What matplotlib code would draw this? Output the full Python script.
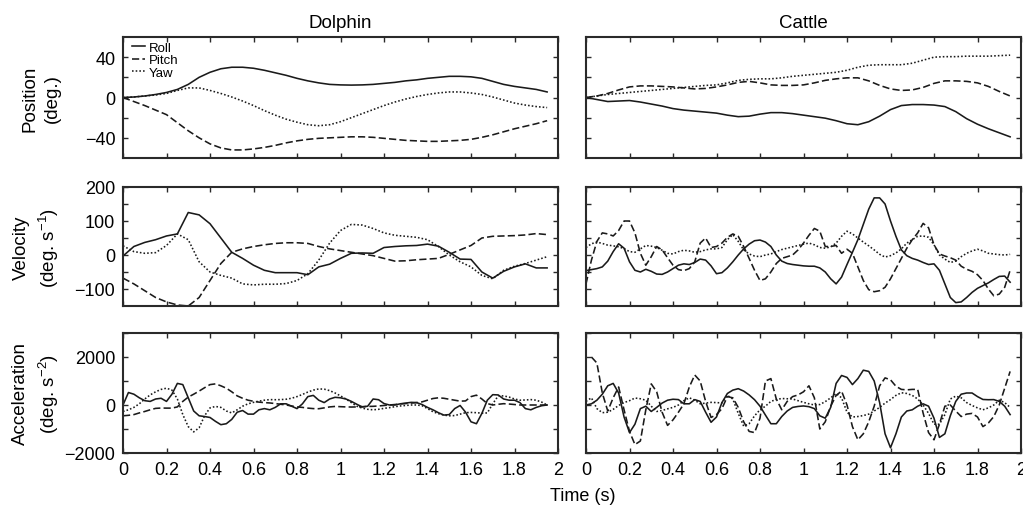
import matplotlib
matplotlib.use('Agg')
import matplotlib.pyplot as plt
import numpy as np

plt.rcParams['font.family'] = ['Liberation Sans', 'DejaVu Sans']
plt.rcParams['mathtext.default'] = 'regular'

# === SAMPLE TIMES (s) ===
t_coarse = np.round(np.arange(40) * 0.05, 3)   # 0 .. 1.95
t_fine = np.round(np.arange(79) * 0.025, 3)    # 0 .. 1.95

# === DOLPHIN ===
d_pos_roll = [0, 0.5, 1.5, 3, 5, 8, 13, 20, 25, 28.5, 30, 30, 29, 27, 24.5, 22, 19, 16.5, 14.5, 13,
              12.5, 12.3, 12.5, 13, 14, 15, 16.5, 17.5, 19, 20, 21, 21, 20.5, 19, 16, 13, 11, 9.5, 8, 5.5]
d_pos_pitch = [0, -4, -8, -12.5, -17, -25, -33, -40, -46, -50, -52, -52, -51, -49.5, -47.5, -45, -43, -41.5,
               -40.5, -40, -39.5, -39, -39, -39.5, -40.5, -41.5, -42.5, -43, -43.5, -43.5, -43, -42.5,
               -41.5, -39.5, -37, -34, -31, -28.5, -26, -23]
d_pos_yaw = [0, 0.5, 1.5, 2.5, 4, 7, 9.5, 9.5, 7, 4, 0.5, -3.5, -8, -13, -17.5, -21.5, -24.5, -27, -28, -27,
             -24, -20, -16, -12, -8, -4.5, -1.5, 1, 3, 4.5, 5.5, 5.5, 4.5, 3, 0.5, -2.5, -5.5, -7.5, -9, -10]

d_vel_roll = [-3, 25, 37, 45, 56, 62, 125, 118, 92, 50, 8, -10, -30, -45, -52, -52, -52, -58, -35, -27,
              -10, 5, 6, 5, 22, 25, 27, 28, 32, 26, 8, -12, -13, -50, -68, -48, -35, -26, -38, -38]
d_vel_pitch = [-68, -85, -105, -125, -138, -147, -150, -125, -75, -25, 8, 18, 25, 30, 34, 36, 36, 34, 25, 18,
               13, 8, 3, -2, -10, -18, -17, -14, -12, -10, 2, 15, 28, 50, 55, 56, 57, 59, 63, 60]
d_vel_yaw = [27, 10, 5, 7, 28, 62, 45, -20, -50, -60, -68, -85, -88, -86, -86, -84, -75, -55, -15, 35,
             72, 90, 88, 78, 65, 58, 55, 52, 45, 25, 0, -20, -35, -60, -70, -45, -33, -25, -15, -5]

d_acc_roll = [0, 520, 450, 300, 180, 150, 250, 280, 150, 450, 900, 850, 300, -250, -450, -480, -520, -680,
              -820, -780, -600, -300, -230, -380, -380, -200, -150, -200, -100, 50, 50, -50, -150, 50, 350,
              400, 200, 100, 250, 320, 300, 250, 150, 30, -80, -50, 250, 220, 60, 0, 0, 50, 80, 110, 100, 20,
              -100, -200, -320, -420, -400, -150, -20, -300, -700, -780, -350, 200, 430, 420, 250, 200, 200,
              100, -150, -200, -100, -30, 0]
d_acc_pitch = [-450, -430, -400, -330, -270, -200, -140, -127, -130, -130, -80, 150, 330, 450, 580, 720, 850,
               880, 800, 700, 550, 380, 280, 200, 155, 120, 100, 85, 60, 30, 0, -40, -80, -100, -130, -150,
               -155, -120, -80, -60, -70, -80, -85, -80, -70, -60, -55, -40, -20, 0, 20, 45, 60, 80, 100, 130,
               200, 270, 300, 280, 240, 200, 160, 170, 350, 410, 250, 60, 0, 30, 55, 40, 20, 0, 0, 0, 0, 0, 0]
d_acc_yaw = [-270, -200, -100, 50, 250, 420, 550, 650, 700, 620, 250, -400, -900, -1120, -950, -450, -120,
             -60, -100, -250, -330, -200, -50, 50, 110, 160, 200, 225, 220, 225, 240, 280, 350, 440, 540, 620,
             670, 660, 600, 500, 380, 250, 100, -50, -130, -180, -200, -180, -140, -110, -70, -40, -20, 0, 0,
             -30, -150, -280, -360, -420, -450, -440, -380, -320, -310, -320, -340, -330, 50, 380, 380, 330,
             250, 200, 210, 225, 200, 120, 0]

# === CATTLE ===
c_pos_roll = [0, -2, -4, -3.5, -3, -4.5, -6.5, -8.5, -11, -12.5, -13.5, -14.5, -15.5, -17.5, -19, -18.5,
              -16.5, -15, -15, -16, -17.5, -19, -20.5, -23, -26, -27, -24, -18.5, -12, -8, -7, -7, -7.5, -9,
              -14, -21, -26.5, -31, -35, -39]
c_pos_pitch = [0, 1.5, 4, 7.5, 10.5, 11.5, 11.5, 11, 10.5, 9.5, 8.5, 9, 10.5, 12.5, 15, 16, 14.5, 12.5, 12,
               12, 12.5, 14.5, 17, 18.5, 19.5, 19.5, 16.5, 12, 8.5, 7, 7.5, 10, 14, 16.5, 16.5, 16, 14.5, 11,
               6, 1.5]
c_pos_yaw = [0, 1.5, 3, 4, 5, 6, 7, 8, 9, 10, 11, 12, 12.5, 14.5, 17, 18, 18.5, 18.5, 19.5, 21, 22, 23, 24,
             25, 27, 30, 32, 32.5, 32.5, 32.5, 34, 37, 40, 40.5, 40.5, 41, 41, 41, 41.5, 42]

c_vel_roll = [-46, -43, -40, -35, -18, 10, 33, 20, -20, -45, -50, -42, -48, -56, -57, -50, -40, -30, -26,
              -28, -22, -12, -15, -32, -55, -52, -38, -20, 0, 18, 32, 42, 44, 38, 25, 0, -18, -25, -28, -30,
              -32, -33, -33, -38, -50, -70, -85, -65, -28, 8, 45, 90, 135, 168, 168, 150, 100, 55, 15, -2,
              -10, -15, -22, -28, -26, -45, -85, -125, -140, -138, -125, -110, -98, -90, -82, -72, -63, -62,
              -80]
c_vel_pitch = [-85, -15, 40, 65, 62, 56, 72, 100, 100, 65, 5, -30, -5, 25, 15, -8, -30, -43, -46, -40, -20,
               35, 50, 22, 25, 35, 52, 62, 55, 25, -10, -45, -75, -70, -50, -25, -10, -5, 0, 15, 35, 58, 78,
               70, 25, 25, 28, 5, 17, 5, -35, -75, -102, -108, -105, -95, -70, -40, -10, 20, 45, 65, 93, 80,
               30, 3, -3, -8, -15, -33, -42, -48, -58, -75, -100, -120, -115, -95, -45]
c_vel_yaw = [22, 33, 38, 34, 29, 27, 24, 19, 10, 8, 18, 28, 26, 22, 14, 5, 3, 10, 14, 12, 8, 10, 15, 18, 18,
             22, 45, 60, 40, 15, 3, -3, -5, 0, 3, 10, 16, 20, 24, 28, 32, 35, 30, 22, 20, 24, 35, 55, 70, 62,
             50, 38, 27, 15, 2, -6, -2, 6, 18, 35, 45, 55, 56, 52, 30, 0, -12, -22, -18, -5, 5, 12, 17, 12, 5,
             3, 1, 0, 2]

nan = float('nan')
c_acc_roll = [0, 50, 200, 450, 800, 900, 500, -500, -1150, -800, -150, -50, -270, -100, 80, 200, 240, 225,
              50, 50, 225, 150, -300, -720, -500, 100, 480, 620, 680, 580, 420, 220, -50, -420, -780, -780,
              -480, -250, -100, -60, -40, -70, -150, -450, -550, -100, 900, 1230, 1150, 850, 1100, 1450, 1400,
              1000, 100, -1200, -1780, -1200, -500, -250, -200, -50, 50, -50, -550, -1350, -1200, -450, 150,
              450, 500, 500, 350, 230, 220, 225, 150, -50, -400]
c_acc_pitch = [nan, 2000, 1750, 500, -250, 300, 750, -200, -1100, -1650, -1500, -200, 880, 550, -300, -850,
               -620, -300, 50, 750, 1250, 1000, 150, -520, -400, -150, 350, 300, -100, -700, -1100, -1150,
               -550, 1000, 1100, 250, -200, 150, 350, 420, 550, 800, 300, -1000, -700, -50, 400, 580, 0, -900,
               -1450, -1200, -700, -50, 800, 1130, 1050, 780, 650, 630, 650, 650, -340, -1150, -1450, -800,
               -50, 0, -250, -480, -380, -350, -500, -900, -750, -480, 0, 700, 1400]
c_acc_yaw = [150, 300, -150, -320, -300, -180, -20, 100, 180, 290, 260, 200, -50, -270, -230, -160, -100, 0,
             180, 300, 200, 50, 80, 110, 100, 85, 400, 250, -350, -880, -780, -450, -200, -50, 150, 230, 270,
             260, 250, 180, 110, 50, 0, 20, 140, 300, 480, 300, -300, -500, -480, -440, -380, -250, -100, 80,
             225, 400, 510, 480, 400, 250, 0, -350, -800, -800, -400, 250, 370, 300, 100, -20, -120, -200,
             -120, 0, 200, 100, -100]

titles = ['Dolphin', 'Cattle']
row_labels = ['Position\n(deg.)', 'Velocity\n(deg. s$^{-1}$)', 'Acceleration\n(deg. s$^{-2}$)']
row_ylims = [(-60, 60), (-150, 200), (-2000, 3000)]
row_yticks = [[-40, -20, 0, 20, 40],
              [-100, -50, 0, 50, 100, 150, 200],
              [-2000, -1000, 0, 1000, 2000, 3000]]
row_yticklabels = [['\u221240', '', '0', '', '40'],
                   ['\u2212100', '', '0', '', '100', '', '200'],
                   ['\u22122000', '', '0', '', '2000', '']]
x_ticks = [0, 0.2, 0.4, 0.6, 0.8, 1, 1.2, 1.4, 1.6, 1.8, 2]
x_ticklabels = ['0', '0.2', '0.4', '0.6', '0.8', '1', '1.2', '1.4', '1.6', '1.8', '2']

data = [
    [(t_coarse, d_pos_roll, d_pos_pitch, d_pos_yaw), (t_coarse, c_pos_roll, c_pos_pitch, c_pos_yaw)],
    [(t_coarse, d_vel_roll, d_vel_pitch, d_vel_yaw), (t_fine, c_vel_roll, c_vel_pitch, c_vel_yaw)],
    [(t_fine, d_acc_roll, d_acc_pitch, d_acc_yaw), (t_fine, c_acc_roll, c_acc_pitch, c_acc_yaw)],
]

# === FIGURE ===
W, H = 1023, 510
fig = plt.figure(figsize=(W / 100, H / 100), dpi=100)
col_left = [123, 586]
col_width = 435
row_top = [38, 188, 334]
row_height = [121, 119, 120]
ink = '#1a1a1a'

for r in range(3):
    for c in range(2):
        ax = fig.add_axes([col_left[c] / W, 1 - (row_top[r] + row_height[r]) / H,
                           col_width / W, row_height[r] / H])
        t, roll, pitch, yaw = data[r][c]
        ax.plot(t, roll, color=ink, lw=1.15, ls='-', label='Roll')
        ax.plot(t, pitch, color=ink, lw=1.15, ls=(0, (4.5, 2)), label='Pitch')
        ax.plot(t, yaw, color=ink, lw=1.15, ls=(0, (1, 1.3)), label='Yaw')

        ax.set_xlim(0, 2)
        ax.set_ylim(*row_ylims[r])
        ax.set_xticks(x_ticks)
        ax.set_yticks(row_yticks[r])
        for s in ax.spines.values():
            s.set_linewidth(1.5)
            s.set_color('#2a2a2a')
        ax.tick_params(direction='in', top=True, right=True, length=3.5, width=1.0,
                       color='#2a2a2a', labelsize=13, pad=5.5)
        if c == 0:
            ax.set_yticklabels(row_yticklabels[r])
            ax.set_ylabel(row_labels[r], fontsize=13.5, linespacing=1.4)
            ax.yaxis.set_label_coords(-0.143, 0.5)
        else:
            ax.tick_params(labelleft=False)
        if r == 2:
            ax.set_xticklabels(x_ticklabels)
        else:
            ax.tick_params(labelbottom=False)
        if r == 0:
            ax.set_title(titles[c], fontsize=13.5, pad=7)
        if r == 0 and c == 0:
            ax.legend(loc='upper left', bbox_to_anchor=(0.02, 0.96), frameon=False, fontsize=9.5,
                      borderpad=0, borderaxespad=0, handlelength=1.0, handletextpad=0.3,
                      labelspacing=0.0)

fig.text(583 / W, 1 - 497 / H, 'Time (s)', fontsize=13, ha='center', va='center')

fig.savefig('out.png', dpi=100)
